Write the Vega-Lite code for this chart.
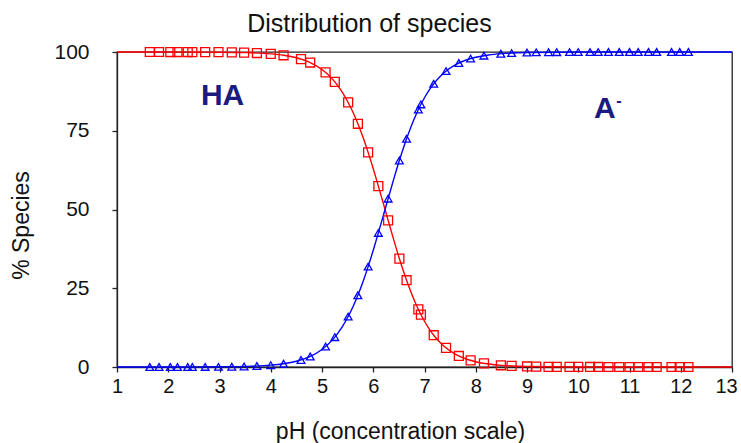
{
  "$schema": "https://vega.github.io/schema/vega-lite/v6.json",
  "width": 615,
  "height": 315,
  "autosize": {"type": "none"},
  "padding": {"left": 117, "top": 52, "right": 9, "bottom": 76},
  "background": "white",
  "config": {
    "font": "Liberation Sans",
    "view": {"stroke": "#222", "strokeWidth": 1.3}
  },
  "title": {
    "text": "Distribution of species",
    "fontSize": 25,
    "fontWeight": "normal",
    "color": "#111",
    "anchor": "middle",
    "frame": "group",
    "dx": -55,
    "dy": 26,
    "offset": 10,
    "baseline": "alphabetic"
  },
  "datasets": {
    "curve": [
      {"pH": 1, "HA": 100, "A": 0},
      {"pH": 2, "HA": 99.99, "A": 0.01},
      {"pH": 3, "HA": 99.94, "A": 0.06},
      {"pH": 3.5, "HA": 99.81, "A": 0.19},
      {"pH": 4, "HA": 99.41, "A": 0.59},
      {"pH": 4.25, "HA": 98.96, "A": 1.04},
      {"pH": 4.5, "HA": 98.17, "A": 1.83},
      {"pH": 4.75, "HA": 96.8, "A": 3.2},
      {"pH": 5, "HA": 94.44, "A": 5.56},
      {"pH": 5.2, "HA": 91.46, "A": 8.54},
      {"pH": 5.3, "HA": 89.48, "A": 10.52},
      {"pH": 5.4, "HA": 87.12, "A": 12.88},
      {"pH": 5.5, "HA": 84.3, "A": 15.7},
      {"pH": 5.6, "HA": 81.01, "A": 18.99},
      {"pH": 5.7, "HA": 77.21, "A": 22.79},
      {"pH": 5.8, "HA": 72.91, "A": 27.09},
      {"pH": 5.9, "HA": 68.13, "A": 31.87},
      {"pH": 6.0, "HA": 62.94, "A": 37.06},
      {"pH": 6.1, "HA": 57.42, "A": 42.58},
      {"pH": 6.2, "HA": 51.73, "A": 48.27},
      {"pH": 6.3, "HA": 45.98, "A": 54.02},
      {"pH": 6.4, "HA": 40.34, "A": 59.66},
      {"pH": 6.5, "HA": 34.94, "A": 65.06},
      {"pH": 6.6, "HA": 29.9, "A": 70.1},
      {"pH": 6.7, "HA": 25.31, "A": 74.69},
      {"pH": 6.8, "HA": 21.21, "A": 78.79},
      {"pH": 6.9, "HA": 17.61, "A": 82.39},
      {"pH": 7.0, "HA": 14.52, "A": 85.48},
      {"pH": 7.1, "HA": 11.89, "A": 88.11},
      {"pH": 7.2, "HA": 9.68, "A": 90.32},
      {"pH": 7.3, "HA": 7.84, "A": 92.16},
      {"pH": 7.4, "HA": 6.33, "A": 93.67},
      {"pH": 7.6, "HA": 4.09, "A": 95.91},
      {"pH": 7.8, "HA": 2.62, "A": 97.38},
      {"pH": 8.0, "HA": 1.67, "A": 98.33},
      {"pH": 8.25, "HA": 0.95, "A": 99.05},
      {"pH": 8.5, "HA": 0.53, "A": 99.47},
      {"pH": 9, "HA": 0.17, "A": 99.83},
      {"pH": 10, "HA": 0.02, "A": 99.98},
      {"pH": 11, "HA": 0, "A": 100},
      {"pH": 13, "HA": 0, "A": 100}
    ],
    "pts": [
      {"pH": 1.64, "HA": 100, "A": 0},
      {"pH": 1.82, "HA": 100, "A": 0},
      {"pH": 2.04, "HA": 99.99, "A": 0.01},
      {"pH": 2.18, "HA": 99.99, "A": 0.01},
      {"pH": 2.38, "HA": 99.99, "A": 0.01},
      {"pH": 2.47, "HA": 99.98, "A": 0.02},
      {"pH": 2.72, "HA": 99.97, "A": 0.03},
      {"pH": 2.98, "HA": 99.94, "A": 0.06},
      {"pH": 3.24, "HA": 99.9, "A": 0.1},
      {"pH": 3.48, "HA": 99.82, "A": 0.18},
      {"pH": 3.73, "HA": 99.68, "A": 0.32},
      {"pH": 4.0, "HA": 99.41, "A": 0.59},
      {"pH": 4.25, "HA": 98.96, "A": 1.04},
      {"pH": 4.59, "HA": 97.76, "A": 2.24},
      {"pH": 4.77, "HA": 96.65, "A": 3.35},
      {"pH": 5.07, "HA": 93.53, "A": 6.47},
      {"pH": 5.25, "HA": 90.52, "A": 9.48},
      {"pH": 5.51, "HA": 83.99, "A": 16.01},
      {"pH": 5.7, "HA": 77.21, "A": 22.79},
      {"pH": 5.9, "HA": 68.13, "A": 31.87},
      {"pH": 6.1, "HA": 57.42, "A": 42.58},
      {"pH": 6.29, "HA": 46.55, "A": 53.45},
      {"pH": 6.51, "HA": 34.42, "A": 65.58},
      {"pH": 6.65, "HA": 27.55, "A": 72.45},
      {"pH": 6.88, "HA": 18.29, "A": 81.71},
      {"pH": 6.93, "HA": 16.63, "A": 83.37},
      {"pH": 7.18, "HA": 10.09, "A": 89.91},
      {"pH": 7.42, "HA": 6.06, "A": 93.94},
      {"pH": 7.67, "HA": 3.5, "A": 96.5},
      {"pH": 7.9, "HA": 2.09, "A": 97.91},
      {"pH": 8.16, "HA": 1.16, "A": 98.84},
      {"pH": 8.49, "HA": 0.55, "A": 99.45},
      {"pH": 8.7, "HA": 0.34, "A": 99.66},
      {"pH": 9.0, "HA": 0.17, "A": 99.83},
      {"pH": 9.18, "HA": 0.11, "A": 99.89},
      {"pH": 9.42, "HA": 0.06, "A": 99.94},
      {"pH": 9.58, "HA": 0.04, "A": 99.96},
      {"pH": 9.83, "HA": 0.03, "A": 99.97},
      {"pH": 10.0, "HA": 0.02, "A": 99.98},
      {"pH": 10.23, "HA": 0.01, "A": 99.99},
      {"pH": 10.39, "HA": 0.01, "A": 99.99},
      {"pH": 10.59, "HA": 0, "A": 100},
      {"pH": 10.8, "HA": 0, "A": 100},
      {"pH": 11.0, "HA": 0, "A": 100},
      {"pH": 11.17, "HA": 0, "A": 100},
      {"pH": 11.37, "HA": 0, "A": 100},
      {"pH": 11.53, "HA": 0, "A": 100},
      {"pH": 11.82, "HA": 0, "A": 100},
      {"pH": 11.98, "HA": 0, "A": 100},
      {"pH": 12.15, "HA": 0, "A": 100}
    ],
    "lbl": [
      {"pH": 3.06, "pct": 83.2, "label": "HA"},
      {"pH": 10.52, "pct": 79.05, "label": "A"}
    ],
    "sup": [
      {"pH": 10.74, "pct": 84.4, "label": "-"}
    ]
  },
  "encoding": {
    "x": {
      "field": "pH",
      "type": "quantitative",
      "scale": {"domain": [1, 13], "nice": false, "zero": false},
      "axis": {
        "title": "pH (concentration scale)",
        "values": [1, 2, 3, 4, 5, 6, 7, 8, 9, 10, 11, 12, 13],
        "format": "d",
        "grid": false,
        "tickSize": 5,
        "labelPadding": 4,
        "labelFontSize": 20,
        "labelFlush": false,
        "labelOverlap": false,
        "labelOffset": {"condition": {"test": "datum.value === 13", "value": -6}, "value": 0},
        "labelColor": "#111",
        "domainColor": "#222",
        "tickColor": "#222",
        "domainWidth": 1.3,
        "tickWidth": 1.3,
        "titleFontSize": 23,
        "titleFontWeight": "normal",
        "titleColor": "#111",
        "titleX": 283,
        "titleY": 71,
        "titleBaseline": "alphabetic",
        "titleAlign": "center"
      }
    },
    "y": {
      "field": "pct",
      "type": "quantitative",
      "scale": {"domain": [0, 100]},
      "axis": {
        "title": "% Species",
        "values": [0, 25, 50, 75, 100],
        "grid": false,
        "tickSize": 5,
        "labelPadding": 23,
        "labelFontSize": 21,
        "labelFlush": false,
        "labelOverlap": false,
        "labelColor": "#111",
        "domainColor": "#222",
        "tickColor": "#222",
        "domainWidth": 1.3,
        "tickWidth": 1.3,
        "titleFontSize": 23,
        "titleFontWeight": "normal",
        "titleColor": "#111",
        "titleAngle": 270,
        "titleX": -89,
        "titleY": 173,
        "titleBaseline": "alphabetic",
        "titleAlign": "center"
      }
    }
  },
  "layer": [
    {
      "data": {"name": "curve"},
      "transform": [{"fold": ["HA", "A"], "as": ["species", "pct"]}],
      "mark": {"type": "line", "strokeWidth": 1.4, "interpolate": "monotone"},
      "encoding": {
        "color": {"field": "species", "type": "nominal", "scale": {"domain": ["HA", "A"], "range": ["#ff0000", "#0000ff"]}, "legend": null}
      }
    },
    {
      "data": {"name": "pts"},
      "transform": [{"fold": ["HA", "A"], "as": ["species", "pct"]}, {"filter": "datum.species === 'HA'"}],
      "mark": {"type": "point", "shape": "square", "size": 80, "filled": false, "stroke": "#ff0000", "strokeWidth": 1.3, "opacity": 1}
    },
    {
      "data": {"name": "pts"},
      "transform": [{"fold": ["HA", "A"], "as": ["species", "pct"]}, {"filter": "datum.species === 'A'"}],
      "mark": {"type": "point", "shape": "triangle-up", "size": 60, "filled": false, "stroke": "#0000ff", "strokeWidth": 1.3, "opacity": 1}
    },
    {
      "data": {"name": "lbl"},
      "mark": {"type": "text", "fontSize": 30, "fontWeight": "bold", "color": "#1a1a80", "align": "center", "baseline": "alphabetic"},
      "encoding": {"text": {"field": "label"}}
    },
    {
      "data": {"name": "sup"},
      "mark": {"type": "text", "fontSize": 16, "fontWeight": "bold", "color": "#1a1a80", "align": "left", "baseline": "middle"},
      "encoding": {"text": {"field": "label"}}
    }
  ]
}
